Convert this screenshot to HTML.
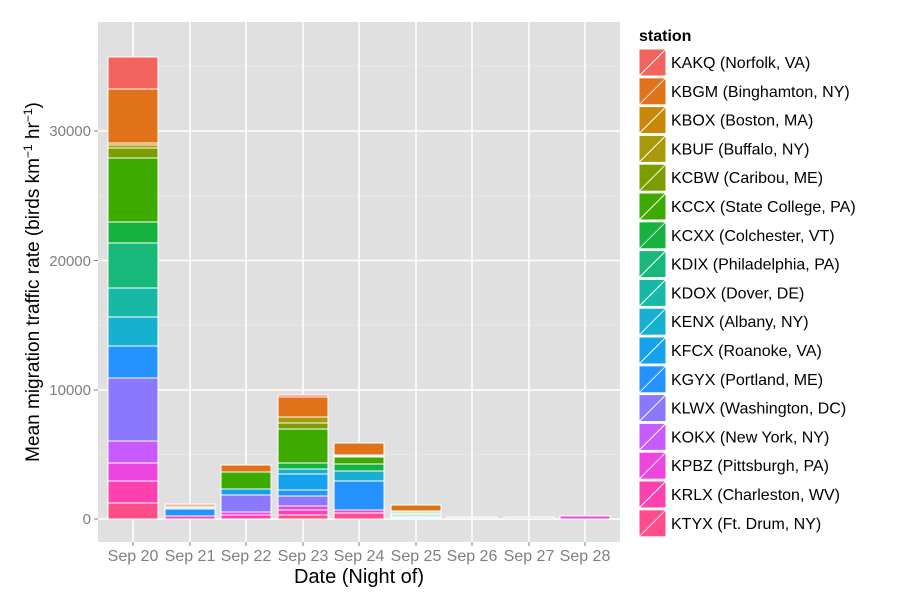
<!DOCTYPE html>
<html><head><meta charset="utf-8"><style>body{margin:0;background:#fff}svg{display:block;font-family:"Liberation Sans",sans-serif}</style></head><body>
<svg width="900" height="600" xmlns="http://www.w3.org/2000/svg">
<rect x="98" y="22" width="522" height="520" fill="#e0e0e0"/>
<g stroke="#ebebeb" stroke-width="0.8">
<line x1="98" x2="620" y1="454.5" y2="454.5"/><line x1="98" x2="620" y1="325" y2="325"/><line x1="98" x2="620" y1="196" y2="196"/><line x1="98" x2="620" y1="66" y2="66"/>
</g>
<g stroke="#fff" stroke-width="1.5">
<line x1="98" x2="620" y1="519" y2="519"/><line x1="98" x2="620" y1="390" y2="390"/><line x1="98" x2="620" y1="260.5" y2="260.5"/><line x1="98" x2="620" y1="131" y2="131"/>
<line x1="133" x2="133" y1="22" y2="542"/><line x1="190" x2="190" y1="22" y2="542"/><line x1="246" x2="246" y1="22" y2="542"/><line x1="303" x2="303" y1="22" y2="542"/><line x1="359" x2="359" y1="22" y2="542"/><line x1="416" x2="416" y1="22" y2="542"/><line x1="472" x2="472" y1="22" y2="542"/><line x1="529" x2="529" y1="22" y2="542"/><line x1="585" x2="585" y1="22" y2="542"/>
</g>
<g stroke="#fff" stroke-width="1">
<rect x="108" y="57" width="50" height="32" fill="#F4645E"/>
<rect x="108" y="89" width="50" height="54" fill="#E0731A"/>
<rect x="108" y="143" width="50" height="2" fill="#C8880A"/>
<rect x="108" y="145" width="50" height="3" fill="#A89A0A"/>
<rect x="108" y="148" width="50" height="10" fill="#7A9E00"/>
<rect x="108" y="158" width="50" height="64" fill="#3DAA00"/>
<rect x="108" y="222" width="50" height="21" fill="#16B23F"/>
<rect x="108" y="243" width="50" height="45" fill="#18B87A"/>
<rect x="108" y="288" width="50" height="29" fill="#17B8A6"/>
<rect x="108" y="317" width="50" height="29" fill="#18B0D0"/>
<rect x="108" y="346" width="50" height="32" fill="#2492FF"/>
<rect x="108" y="378" width="50" height="63" fill="#8B78FF"/>
<rect x="108" y="441" width="50" height="22" fill="#C75BFF"/>
<rect x="108" y="463" width="50" height="18" fill="#EC45E0"/>
<rect x="108" y="481" width="50" height="22" fill="#FF40B0"/>
<rect x="108" y="503" width="50" height="16" fill="#FF4C8A"/>
<rect x="165" y="504" width="50" height="3" fill="#F0B890"/>
<rect x="165" y="507" width="50" height="2" fill="#cfe8f8"/>
<rect x="165" y="509" width="50" height="7" fill="#2492FF"/>
<rect x="165" y="516" width="50" height="3" fill="#FF40B0"/>
<rect x="221" y="465" width="50" height="7" fill="#E0731A"/>
<rect x="221" y="472" width="50" height="17" fill="#3DAA00"/>
<rect x="221" y="489" width="50" height="6" fill="#14A2EE"/>
<rect x="221" y="495" width="50" height="17" fill="#8B78FF"/>
<rect x="221" y="512" width="50" height="3" fill="#EC45E0"/>
<rect x="221" y="515" width="50" height="4" fill="#FF40B0"/>
<rect x="278" y="395" width="50" height="2" fill="#F4645E"/>
<rect x="278" y="397" width="50" height="20" fill="#E0731A"/>
<rect x="278" y="417" width="50" height="6" fill="#A89A0A"/>
<rect x="278" y="423" width="50" height="6" fill="#7A9E00"/>
<rect x="278" y="429" width="50" height="34" fill="#3DAA00"/>
<rect x="278" y="463" width="50" height="6" fill="#16B23F"/>
<rect x="278" y="469" width="50" height="5" fill="#18B0D0"/>
<rect x="278" y="474" width="50" height="16" fill="#14A2EE"/>
<rect x="278" y="490" width="50" height="6" fill="#2492FF"/>
<rect x="278" y="496" width="50" height="10" fill="#8B78FF"/>
<rect x="278" y="506" width="50" height="4" fill="#EC45E0"/>
<rect x="278" y="510" width="50" height="5" fill="#FF40B0"/>
<rect x="278" y="515" width="50" height="4" fill="#FF4C8A"/>
<rect x="334" y="443" width="50" height="12" fill="#E0731A"/>
<rect x="334" y="455" width="50" height="2" fill="#fff"/>
<rect x="334" y="457" width="50" height="7" fill="#3DAA00"/>
<rect x="334" y="464" width="50" height="7" fill="#16B23F"/>
<rect x="334" y="471" width="50" height="10" fill="#18B0D0"/>
<rect x="334" y="481" width="50" height="29" fill="#2492FF"/>
<rect x="334" y="510" width="50" height="3" fill="#EC45E0"/>
<rect x="334" y="513" width="50" height="6" fill="#FF4C8A"/>
<rect x="391" y="505" width="50" height="6" fill="#E0731A"/>
<rect x="391" y="511" width="50" height="3" fill="#d8e8b8"/>
<rect x="391" y="514" width="50" height="3" fill="#bfe8f0"/>
<rect x="391" y="517" width="50" height="2" fill="#eee"/>
<rect x="447" y="517" width="50" height="2" fill="#f2e6df"/>
<rect x="504" y="517" width="50" height="2" fill="#f0d8dc"/>
<rect x="560" y="516" width="50" height="3" fill="#EC45E0"/>
</g>
<g fill="#7f7f7f" font-size="15" text-anchor="end">
<text x="91" y="524">0</text><text x="91" y="395">10000</text><text x="91" y="266">20000</text><text x="91" y="136">30000</text>
</g>
<g stroke="#7f7f7f"><line x1="94" x2="98" y1="519" y2="519"/><line x1="94" x2="98" y1="390" y2="390"/><line x1="94" x2="98" y1="260.5" y2="260.5"/><line x1="94" x2="98" y1="131" y2="131"/>
<line x1="133" x2="133" y1="542" y2="546"/><line x1="190" x2="190" y1="542" y2="546"/><line x1="246" x2="246" y1="542" y2="546"/><line x1="303" x2="303" y1="542" y2="546"/><line x1="359" x2="359" y1="542" y2="546"/><line x1="416" x2="416" y1="542" y2="546"/><line x1="472" x2="472" y1="542" y2="546"/><line x1="529" x2="529" y1="542" y2="546"/><line x1="585" x2="585" y1="542" y2="546"/></g>
<g fill="#7f7f7f" font-size="16" text-anchor="middle">
<text x="133" y="561">Sep 20</text><text x="190" y="561">Sep 21</text><text x="246" y="561">Sep 22</text><text x="303" y="561">Sep 23</text><text x="359" y="561">Sep 24</text><text x="416" y="561">Sep 25</text><text x="472" y="561">Sep 26</text><text x="529" y="561">Sep 27</text><text x="585" y="561">Sep 28</text>
</g>
<text x="359" y="583" font-size="20" text-anchor="middle">Date (Night of)</text>
<text transform="translate(39,282) rotate(-90)" font-size="19" text-anchor="middle">Mean migration traffic rate (birds km<tspan dy="-7" font-size="12">−1</tspan><tspan dy="7"> hr</tspan><tspan dy="-7" font-size="12">−1</tspan><tspan dy="7">)</tspan></text>
<text x="639" y="41" font-size="16" font-weight="bold">station</text>
<g font-size="16" fill="#000">
<g transform="translate(638,48)"><rect x="1" y="1" width="27" height="27" fill="#F4645E" stroke="#fff"/><line x1="1" y1="28" x2="28" y2="1" stroke="#fff"/><text x="33" y="20">KAKQ (Norfolk, VA)</text></g>
<g transform="translate(638,76.8)"><rect x="1" y="1" width="27" height="27" fill="#E0731A" stroke="#fff"/><line x1="1" y1="28" x2="28" y2="1" stroke="#fff"/><text x="33" y="20">KBGM (Binghamton, NY)</text></g>
<g transform="translate(638,105.6)"><rect x="1" y="1" width="27" height="27" fill="#C8880A" stroke="#fff"/><line x1="1" y1="28" x2="28" y2="1" stroke="#fff"/><text x="33" y="20">KBOX (Boston, MA)</text></g>
<g transform="translate(638,134.4)"><rect x="1" y="1" width="27" height="27" fill="#A89A0A" stroke="#fff"/><line x1="1" y1="28" x2="28" y2="1" stroke="#fff"/><text x="33" y="20">KBUF (Buffalo, NY)</text></g>
<g transform="translate(638,163.2)"><rect x="1" y="1" width="27" height="27" fill="#7A9E00" stroke="#fff"/><line x1="1" y1="28" x2="28" y2="1" stroke="#fff"/><text x="33" y="20">KCBW (Caribou, ME)</text></g>
<g transform="translate(638,192)"><rect x="1" y="1" width="27" height="27" fill="#3DAA00" stroke="#fff"/><line x1="1" y1="28" x2="28" y2="1" stroke="#fff"/><text x="33" y="20">KCCX (State College, PA)</text></g>
<g transform="translate(638,220.8)"><rect x="1" y="1" width="27" height="27" fill="#16B23F" stroke="#fff"/><line x1="1" y1="28" x2="28" y2="1" stroke="#fff"/><text x="33" y="20">KCXX (Colchester, VT)</text></g>
<g transform="translate(638,249.6)"><rect x="1" y="1" width="27" height="27" fill="#18B87A" stroke="#fff"/><line x1="1" y1="28" x2="28" y2="1" stroke="#fff"/><text x="33" y="20">KDIX (Philadelphia, PA)</text></g>
<g transform="translate(638,278.4)"><rect x="1" y="1" width="27" height="27" fill="#17B8A6" stroke="#fff"/><line x1="1" y1="28" x2="28" y2="1" stroke="#fff"/><text x="33" y="20">KDOX (Dover, DE)</text></g>
<g transform="translate(638,307.2)"><rect x="1" y="1" width="27" height="27" fill="#18B0D0" stroke="#fff"/><line x1="1" y1="28" x2="28" y2="1" stroke="#fff"/><text x="33" y="20">KENX (Albany, NY)</text></g>
<g transform="translate(638,336)"><rect x="1" y="1" width="27" height="27" fill="#14A2EE" stroke="#fff"/><line x1="1" y1="28" x2="28" y2="1" stroke="#fff"/><text x="33" y="20">KFCX (Roanoke, VA)</text></g>
<g transform="translate(638,364.8)"><rect x="1" y="1" width="27" height="27" fill="#2492FF" stroke="#fff"/><line x1="1" y1="28" x2="28" y2="1" stroke="#fff"/><text x="33" y="20">KGYX (Portland, ME)</text></g>
<g transform="translate(638,393.6)"><rect x="1" y="1" width="27" height="27" fill="#8B78FF" stroke="#fff"/><line x1="1" y1="28" x2="28" y2="1" stroke="#fff"/><text x="33" y="20">KLWX (Washington, DC)</text></g>
<g transform="translate(638,422.4)"><rect x="1" y="1" width="27" height="27" fill="#C75BFF" stroke="#fff"/><line x1="1" y1="28" x2="28" y2="1" stroke="#fff"/><text x="33" y="20">KOKX (New York, NY)</text></g>
<g transform="translate(638,451.2)"><rect x="1" y="1" width="27" height="27" fill="#EC45E0" stroke="#fff"/><line x1="1" y1="28" x2="28" y2="1" stroke="#fff"/><text x="33" y="20">KPBZ (Pittsburgh, PA)</text></g>
<g transform="translate(638,480)"><rect x="1" y="1" width="27" height="27" fill="#FF40B0" stroke="#fff"/><line x1="1" y1="28" x2="28" y2="1" stroke="#fff"/><text x="33" y="20">KRLX (Charleston, WV)</text></g>
<g transform="translate(638,508.8)"><rect x="1" y="1" width="27" height="27" fill="#FF4C8A" stroke="#fff"/><line x1="1" y1="28" x2="28" y2="1" stroke="#fff"/><text x="33" y="20">KTYX (Ft. Drum, NY)</text></g>
</g>
</svg>
</body></html>
